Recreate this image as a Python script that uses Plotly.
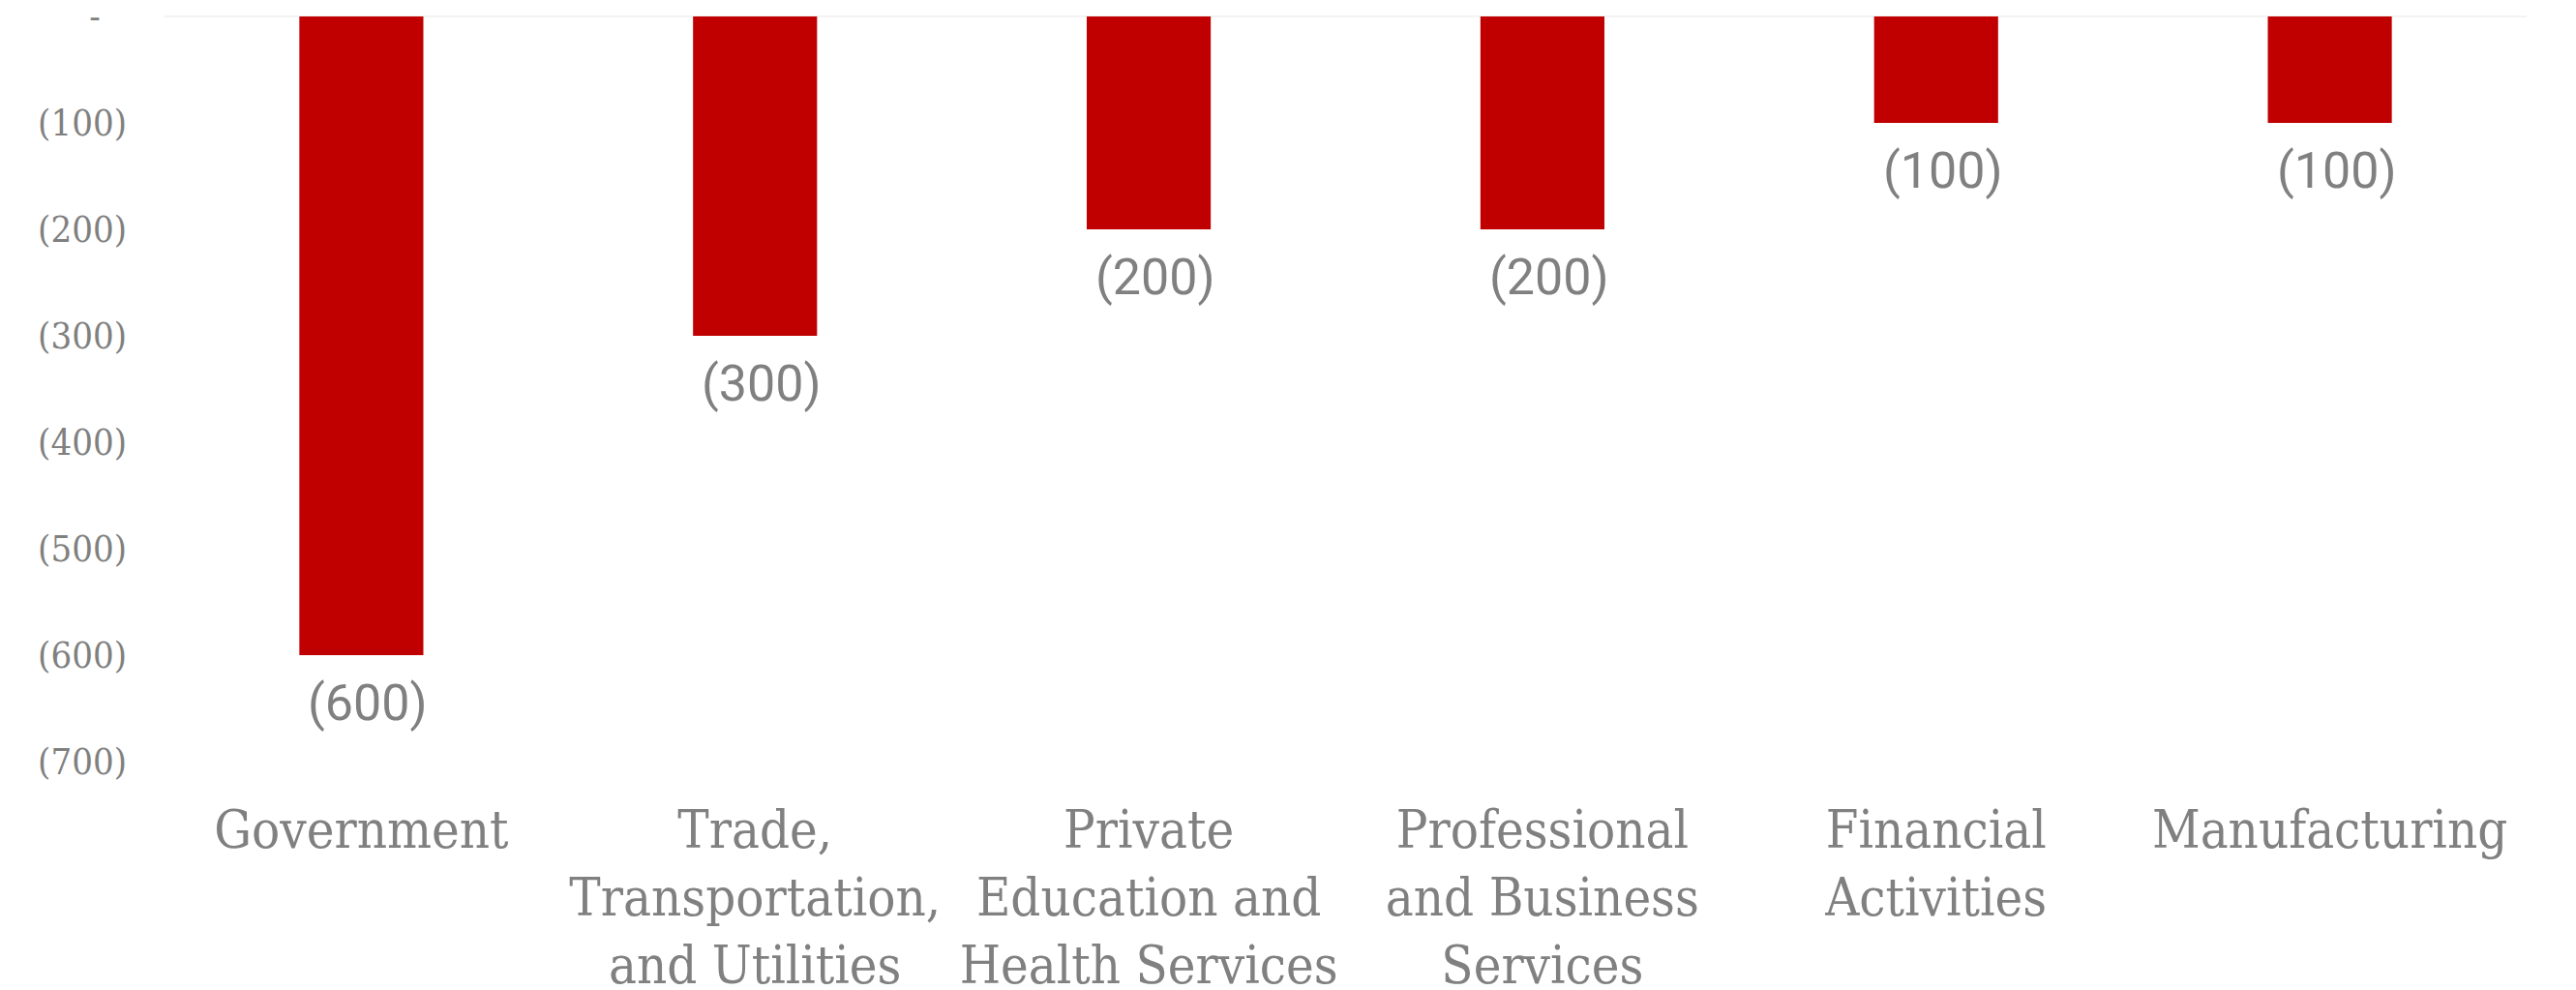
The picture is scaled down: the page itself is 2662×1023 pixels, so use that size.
import plotly.graph_objects as go

categories = ["Government", "Trade,<br>Transportation,<br>and Utilities",
              "Private<br>Education and<br>Health Services",
              "Professional<br>and Business<br>Services",
              "Financial<br>Activities", "Manufacturing"]
values = [-600, -300, -200, -200, -100, -100]
value_labels = ["(600)", "(300)", "(200)", "(200)", "(100)", "(100)"]
y_tickvals = [0, -100, -200, -300, -400, -500, -600, -700]
y_ticktext = ["-\u2002\u2009\u200a", "(100)", "(200)", "(300)", "(400)", "(500)", "(600)", "(700)"]

GRAY = "#808080"
SLAB = "DejaVu Serif Condensed, DejaVu Serif, serif"

fig = go.Figure()
fig.add_trace(go.Bar(x=categories, y=values, marker=dict(color="#C00000", line=dict(width=0)),
                     hoverinfo="skip"))

for c, v, t in zip(categories, values, value_labels):
    fig.add_annotation(x=c, y=v, text=t, showarrow=False, yanchor="middle", yshift=-49,
                       xshift=7, font=dict(family="Roboto", size=52, color=GRAY))

fig.update_layout(
    width=2662, height=1023,
    margin=dict(l=162, r=59, t=9, b=244, autoexpand=False),
    plot_bgcolor="white", paper_bgcolor="white",
    bargap=0.685, showlegend=False,
    xaxis=dict(showgrid=False, zeroline=False, showline=False, ticks="", automargin=False,
               tickfont=dict(family=SLAB, size=54, color=GRAY), ticklabelstandoff=34,
               ticklabeloverflow="allow"),
    yaxis=dict(range=[-700, 0], showgrid=False, zeroline=True, zerolinecolor="#f3f3f3",
               zerolinewidth=2, showline=False, ticks="", automargin=False,
               tickvals=y_tickvals, ticktext=y_ticktext, ticklabeloverflow="allow",
               tickfont=dict(family=SLAB, size=38, color=GRAY), ticklabelstandoff=38),
)

fig.write_html("out.html")
